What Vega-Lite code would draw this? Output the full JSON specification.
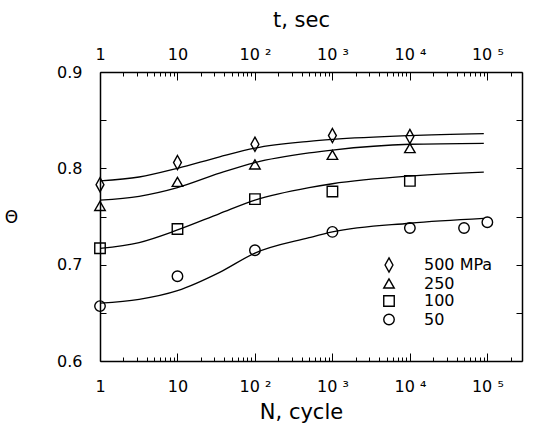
{
  "$schema": "https://vega.github.io/schema/vega-lite/v6.json",
  "autosize": "none",
  "padding": {"left": 100, "top": 72, "right": 14, "bottom": 66},
  "width": 422,
  "height": 289,
  "background": "white",
  "datasets": {
    "curves": [
      {"stress": "500 MPa", "N": 1, "theta": 0.787},
      {"stress": "500 MPa", "N": 3.2, "theta": 0.791},
      {"stress": "500 MPa", "N": 10, "theta": 0.800},
      {"stress": "500 MPa", "N": 35, "theta": 0.812},
      {"stress": "500 MPa", "N": 100, "theta": 0.821},
      {"stress": "500 MPa", "N": 500, "theta": 0.828},
      {"stress": "500 MPa", "N": 1000, "theta": 0.830},
      {"stress": "500 MPa", "N": 10000, "theta": 0.834},
      {"stress": "500 MPa", "N": 90000, "theta": 0.836},
      {"stress": "250", "N": 1, "theta": 0.767},
      {"stress": "250", "N": 3.2, "theta": 0.771},
      {"stress": "250", "N": 10, "theta": 0.780},
      {"stress": "250", "N": 35, "theta": 0.795},
      {"stress": "250", "N": 100, "theta": 0.806},
      {"stress": "250", "N": 500, "theta": 0.816},
      {"stress": "250", "N": 1000, "theta": 0.819},
      {"stress": "250", "N": 10000, "theta": 0.825},
      {"stress": "250", "N": 90000, "theta": 0.826},
      {"stress": "100", "N": 1, "theta": 0.717},
      {"stress": "100", "N": 3.2, "theta": 0.723},
      {"stress": "100", "N": 10, "theta": 0.736},
      {"stress": "100", "N": 35, "theta": 0.753},
      {"stress": "100", "N": 100, "theta": 0.767},
      {"stress": "100", "N": 500, "theta": 0.780},
      {"stress": "100", "N": 1000, "theta": 0.784},
      {"stress": "100", "N": 10000, "theta": 0.792},
      {"stress": "100", "N": 90000, "theta": 0.796},
      {"stress": "50", "N": 1, "theta": 0.660},
      {"stress": "50", "N": 3.2, "theta": 0.664},
      {"stress": "50", "N": 10, "theta": 0.673},
      {"stress": "50", "N": 35, "theta": 0.692},
      {"stress": "50", "N": 100, "theta": 0.712},
      {"stress": "50", "N": 500, "theta": 0.728},
      {"stress": "50", "N": 1000, "theta": 0.734},
      {"stress": "50", "N": 10000, "theta": 0.743},
      {"stress": "50", "N": 90000, "theta": 0.748}
    ],
    "points": [
      {"stress": "500 MPa", "N": 1, "theta": 0.783},
      {"stress": "500 MPa", "N": 10, "theta": 0.806},
      {"stress": "500 MPa", "N": 100, "theta": 0.825},
      {"stress": "500 MPa", "N": 1000, "theta": 0.834},
      {"stress": "500 MPa", "N": 10000, "theta": 0.833},
      {"stress": "250", "N": 1, "theta": 0.761},
      {"stress": "250", "N": 10, "theta": 0.786},
      {"stress": "250", "N": 100, "theta": 0.804},
      {"stress": "250", "N": 1000, "theta": 0.814},
      {"stress": "250", "N": 10000, "theta": 0.821},
      {"stress": "100", "N": 1, "theta": 0.717},
      {"stress": "100", "N": 10, "theta": 0.737},
      {"stress": "100", "N": 100, "theta": 0.768},
      {"stress": "100", "N": 1000, "theta": 0.776},
      {"stress": "100", "N": 10000, "theta": 0.787},
      {"stress": "50", "N": 1, "theta": 0.657},
      {"stress": "50", "N": 10, "theta": 0.688},
      {"stress": "50", "N": 100, "theta": 0.715},
      {"stress": "50", "N": 1000, "theta": 0.734},
      {"stress": "50", "N": 10000, "theta": 0.738},
      {"stress": "50", "N": 50000, "theta": 0.738},
      {"stress": "50", "N": 100000, "theta": 0.744}
    ]
  },
  "layer": [
    {
      "data": {"name": "curves"},
      "mark": {"type": "line", "interpolate": "monotone", "color": "black", "strokeWidth": 1.3},
      "encoding": {
        "x": {
          "field": "N", "type": "quantitative",
          "scale": {"type": "log", "domain": [1, 280000], "nice": false},
          "axis": {
            "orient": "bottom",
            "values": [1, 10, 100, 1000, 10000, 100000],
            "labelExpr": "datum.value==1?'1':datum.value==10?'10':datum.value==100?'10 ²':datum.value==1000?'10 ³':datum.value==10000?'10 ⁴':'10 ⁵'",
            "tickSize": -8,
            "labelPadding": 25,
            "labelOverlap": false,
            "labelFlush": false,
            "labelFontSize": 16,
            "title": "N, cycle",
            "titleFontSize": 21,
            "titleX": 201,
            "titleY": 57,
            "titleBaseline": "alphabetic",
            "titleAnchor": "middle",
            "titleAlign": "center"
          }
        },
        "y": {
          "field": "theta", "type": "quantitative",
          "scale": {"domain": [0.6, 0.9], "nice": false, "zero": false},
          "axis": {
            "orient": "left",
            "values": [0.6, 0.65, 0.7, 0.75, 0.8, 0.85, 0.9],
            "labelExpr": "indexof([0.6,0.7,0.8,0.9], datum.value) >= 0 ? format(datum.value, '.1f') : ''",
            "tickSize": -6,
            "labelPadding": 24,
            "labelFontSize": 16,
            "labelOverlap": false,
            "labelFlush": false,
            "title": "Θ",
            "titleFontSize": 17,
            "titleAngle": 0,
            "titleX": -89,
            "titleY": 145,
            "titleAlign": "center",
            "titleBaseline": "middle"
          }
        },
        "detail": {"field": "stress"}
      }
    },
    {
      "data": {"name": "points"},
      "mark": {"type": "point", "filled": false, "color": "black", "strokeWidth": 1.4, "size": 110, "opacity": 1},
      "encoding": {
        "x": {
          "field": "N", "type": "quantitative",
          "scale": {"type": "log", "domain": [1, 280000], "nice": false},
          "axis": {
            "orient": "top",
            "values": [1, 10, 100, 1000, 10000, 100000],
            "labelExpr": "datum.value==1?'1':datum.value==10?'10':datum.value==100?'10 ²':datum.value==1000?'10 ³':datum.value==10000?'10 ⁴':'10 ⁵'",
            "tickSize": -8,
            "labelPadding": 18,
            "labelOverlap": false,
            "labelFlush": false,
            "labelFontSize": 16,
            "title": "t, sec",
            "titleFontSize": 21,
            "titleX": 201,
            "titleY": -46,
            "titleBaseline": "alphabetic",
            "titleAnchor": "middle",
            "titleAlign": "center"
          }
        },
        "y": {
          "field": "theta", "type": "quantitative",
          "scale": {"domain": [0.6, 0.9], "nice": false, "zero": false},
          "axis": {
            "orient": "right",
            "values": [0.6, 0.65, 0.7, 0.75, 0.8, 0.85, 0.9],
            "labels": false,
            "tickSize": -6,
            "title": null
          }
        },
        "shape": {
          "field": "stress", "type": "nominal",
          "scale": {
            "domain": ["500 MPa", "250", "100", "50"],
            "range": ["M0,-1.35L0.75,0L0,1.35L-0.75,0Z", "triangle-up", "square", "circle"]
          },
          "legend": {
            "orient": "none",
            "legendX": 281,
            "legendY": 185,
            "title": null,
            "padding": 0,
            "labelFont": "DejaVu Sans",
            "labelFontSize": 16,
            "labelColor": "black",
            "labelOffset": 27,
            "symbolSize": 110,
            "symbolStrokeColor": "black",
            "symbolFillColor": "transparent",
            "symbolStrokeWidth": 1.4,
            "rowPadding": 0.5
          }
        }
      }
    },
    {
      "data": {"name": "points"},
      "mark": {"type": "point", "opacity": 0},
      "encoding": {
        "x": {
          "field": "N", "type": "quantitative",
          "scale": {"type": "log", "domain": [1, 280000], "nice": false},
          "axis": {
            "orient": "bottom",
            "values": [2,3,4,5,6,7,8,9,20,30,40,50,60,70,80,90,200,300,400,500,600,700,800,900,2000,3000,4000,5000,6000,7000,8000,9000,20000,30000,40000,50000,60000,70000,80000,90000,200000],
            "labels": false,
            "domain": false,
            "tickSize": -4,
            "title": null
          }
        },
        "y": {
          "field": "theta", "type": "quantitative",
          "scale": {"domain": [0.6, 0.9], "nice": false, "zero": false},
          "axis": null
        }
      }
    },
    {
      "data": {"name": "points"},
      "mark": {"type": "point", "opacity": 0},
      "encoding": {
        "x": {
          "field": "N", "type": "quantitative",
          "scale": {"type": "log", "domain": [1, 280000], "nice": false},
          "axis": {
            "orient": "top",
            "values": [2,3,4,5,6,7,8,9,20,30,40,50,60,70,80,90,200,300,400,500,600,700,800,900,2000,3000,4000,5000,6000,7000,8000,9000,20000,30000,40000,50000,60000,70000,80000,90000,200000],
            "labels": false,
            "domain": false,
            "tickSize": -4,
            "title": null
          }
        },
        "y": {
          "field": "theta", "type": "quantitative",
          "scale": {"domain": [0.6, 0.9], "nice": false, "zero": false},
          "axis": null
        }
      }
    }
  ],
  "resolve": {"axis": {"x": "independent", "y": "independent"}},
  "config": {
    "view": {"stroke": null},
    "axis": {
      "grid": false,
      "domainColor": "black",
      "domainWidth": 1.5,
      "tickColor": "black",
      "tickWidth": 1,
      "labelColor": "black",
      "titleColor": "black",
      "labelFont": "DejaVu Sans",
      "titleFont": "DejaVu Sans",
      "titleFontWeight": "normal"
    }
  }
}
